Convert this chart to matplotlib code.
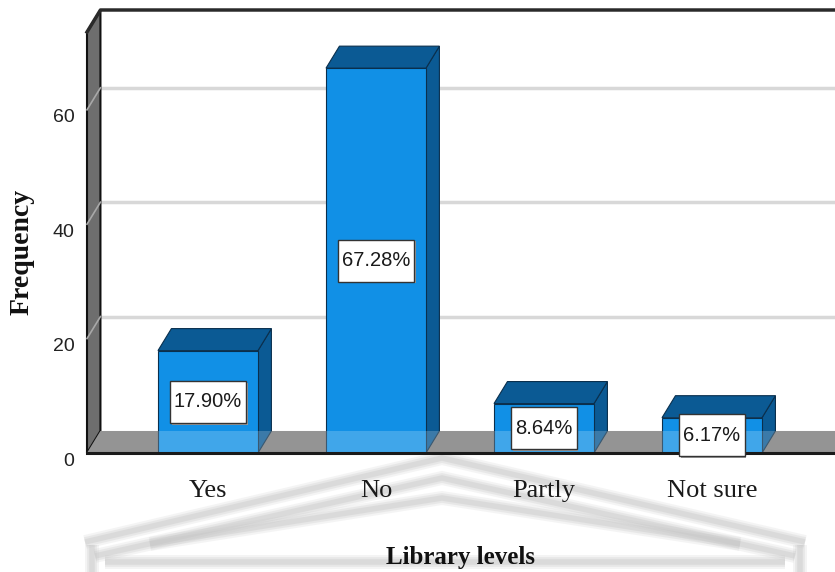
import numpy as np
import matplotlib
matplotlib.use("Agg")
import matplotlib.pyplot as plt
from matplotlib import font_manager
from matplotlib.patches import Polygon, Rectangle
from matplotlib.transforms import ScaledTranslation

categories = ["Yes", "No", "Partly", "Not sure"]
percents = [17.90, 67.28, 8.64, 6.17]
yticks = [0, 20, 40, 60]

_names = {f.name for f in font_manager.fontManager.ttflist}
SANS = "Liberation Sans Narrow" if "Liberation Sans Narrow" in _names else "Liberation Sans"
NUM_SIZE = 15 if SANS.endswith("Narrow") else 14
BOX_SIZE = 16 if SANS.endswith("Narrow") else 14.5
SERIF = "Liberation Serif"

FRONT = "#1190e6"
DARK = "#0b5a94"
EDGE = "#0a2f4d"
WALL = "#6e6e6e"
FLOOR = "#7a7a7a"
GRID = "#d8d8d8"

W, H = 835, 572
fig = plt.figure(figsize=(W / 100, H / 100), dpi=100)
fig.patch.set_facecolor("white")

# faint, soft roof-shaped watermark behind the plot, in pixel coordinates
bg = fig.add_axes([0, 0, 1, 1], zorder=0)
bg.set_xlim(0, W)
bg.set_ylim(H, 0)
bg.axis("off")
wm_lines = [
    ([85, 442, 805], [542, 458, 542]),
    ([95, 442, 795], [556, 478, 556]),
    ([150, 442, 740], [544, 498, 544]),
    ([105, 785], [562, 562]),
    ([92, 92], [545, 572]),
    ([800, 800], [545, 572]),
]
for xs_, ys_ in wm_lines:
    for lw, a in [(10, 0.18), (7, 0.25), (4, 0.35)]:
        bg.plot(xs_, ys_, color="#c4c4c4", lw=lw, alpha=a,
                solid_capstyle="butt", solid_joinstyle="miter")

# main axes: x in category units, y in percent (front plane)
x_left, x_right = -0.72, 3.732
y_top = 77.45
ax = fig.add_axes([87 / W, (H - 453) / H, (W - 87) / W, 443 / H], zorder=1)
ax.set_xlim(x_left, x_right)
ax.set_ylim(0, y_top)
ax.patch.set_visible(False)
for s in ax.spines.values():
    s.set_visible(False)
ax.set_xticks([])

DX, DY = 0.08, 3.85      # depth offset of the 3-D projection
bw = 0.595
wall_h = y_top - DY

# back wall gridlines and the matching diagonals on the left wall
for v in yticks[1:]:
    ax.plot([x_left + DX, x_right], [v + DY, v + DY], color=GRID, lw=2.5,
            zorder=1, clip_on=False)

ax.add_patch(Polygon([(x_left, 0), (x_left + DX, DY), (x_left + DX, y_top),
                      (x_left, wall_h)], closed=True, facecolor=WALL,
                     edgecolor="#111111", lw=1.5, zorder=2, clip_on=False))
for v in yticks[1:]:
    ax.plot([x_left, x_left + DX], [v, v + DY], color="#a8a8a8", lw=1.2,
            zorder=3, clip_on=False)

# floor slab
floor = [(x_left, 0), (x_left + DX, DY), (x_right + 0.2, DY), (x_right + 0.2, 0)]
ax.add_patch(Polygon(floor, closed=True, facecolor=FLOOR, edgecolor="none",
                     zorder=3, clip_on=False))

# bars
xs = np.arange(len(categories))
for x, h in zip(xs, percents):
    l, r = x - bw / 2, x + bw / 2
    ax.add_patch(Polygon([(r, 0), (r + DX, DY), (r + DX, h + DY), (r, h)],
                         closed=True, facecolor=DARK, edgecolor=EDGE, lw=0.8,
                         zorder=4, clip_on=False))
    ax.add_patch(Polygon([(l, h), (l + DX, h + DY), (r + DX, h + DY), (r, h)],
                         closed=True, facecolor=DARK, edgecolor=EDGE, lw=0.8,
                         zorder=4, clip_on=False))
    ax.add_patch(Rectangle((l, 0), bw, h, facecolor=FRONT, edgecolor=EDGE,
                           lw=0.8, zorder=5, clip_on=False))

# translucent floor surface drawn over the bar bases
ax.add_patch(Polygon(floor, closed=True, facecolor="white", alpha=0.2,
                     edgecolor="none", zorder=6, clip_on=False))
ax.plot([x_left, x_right + 0.2], [0, 0], color="#1a1a1a", lw=2.2, zorder=7,
        clip_on=False)

# top edge of the back wall
ax.plot([x_left, x_left + DX, x_right + 0.2], [wall_h, y_top, y_top],
        color="#2a2a2a", lw=2.5, zorder=7, clip_on=False)

# y tick labels
ax.set_yticks(yticks)
ax.tick_params(axis="y", length=0, pad=9)
for lab in ax.get_yticklabels():
    lab.set_fontfamily(SANS)
    lab.set_fontsize(NUM_SIZE)
    lab.set_color("#222222")
    lab.set_transform(lab.get_transform() + ScaledTranslation(0, -0.06, fig.dpi_scale_trans))

# percentage labels in boxes at the middle of each bar
texts = []
for x, h in zip(xs, percents):
    t = ax.text(x, h / 2, f"{h:.2f}%", ha="center", va="center",
                family=SANS, fontsize=BOX_SIZE, color="#1a1a1a", zorder=10)
    texts.append(t)

fig.canvas.draw()
renderer = fig.canvas.get_renderer()
inv = ax.transData.inverted()
for t, x, h in zip(texts, xs, percents):
    bb = t.get_window_extent(renderer)
    cx, cy = ax.transData.transform((x, h / 2))
    (x0, y0) = inv.transform((bb.x0 - 4, cy - 21))
    (x1, y1) = inv.transform((bb.x1 + 4, cy + 21))
    ax.add_patch(Rectangle((x0 + 0.01, y0 - 0.3), x1 - x0, y1 - y0,
                           facecolor="#9a9a9a", edgecolor="none", zorder=8,
                           clip_on=False))
    ax.add_patch(Rectangle((x0, y0), x1 - x0, y1 - y0, facecolor="white",
                           edgecolor="#333333", lw=1.0, zorder=9,
                           clip_on=False))

# category labels
for x, c in zip(xs, categories):
    ax.text(x, -7.7, c, ha="center", va="baseline", family=SERIF,
            fontsize=19, color="#1a1a1a", clip_on=False)

fig.text(460 / W, 8 / H, "Library levels", ha="center", va="baseline",
         family=SERIF, fontweight="bold", fontsize=18, color="#111111")
fig.text(22 / W, 1 - 252 / H, "Frequency", ha="center", va="center",
         rotation=90, family=SERIF, fontweight="bold", fontsize=20,
         color="#111111")

fig.savefig("out.png", dpi=100, facecolor="white")
